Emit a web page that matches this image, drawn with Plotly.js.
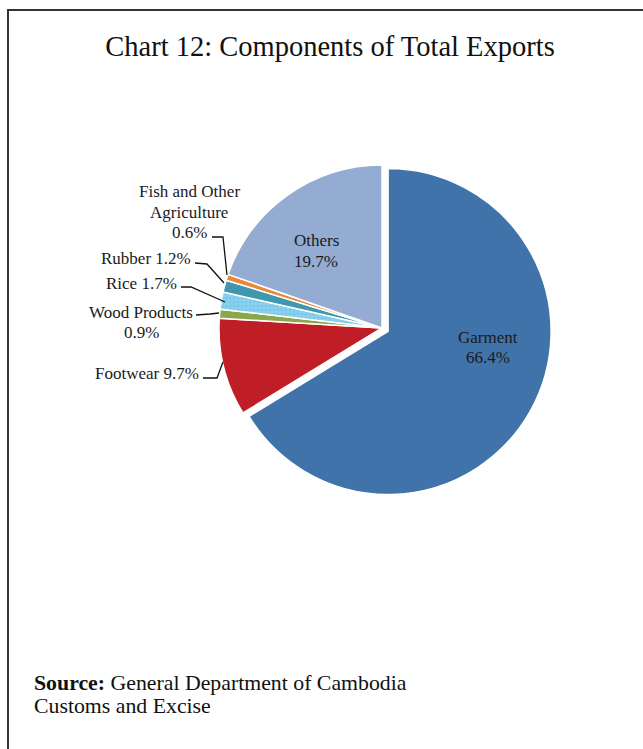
<!DOCTYPE html>
<html>
<head>
<meta charset="utf-8">
<script src="https://cdn.plot.ly/plotly-3.0.1.min.js"></script>
<style>
html,body{margin:0;padding:0;background:#fff;}
#chart{width:643px;height:749px;}
</style>
</head>
<body>
<div id="chart"></div>
<script>
// ---- data ----
var categories = ["Garment", "Footwear", "Wood Products", "Rice", "Rubber", "Fish and Other Agriculture", "Others"];
var shares = [66.4, 9.7, 0.9, 1.7, 1.2, 0.6, 19.7];
var labelLines = [
  ["Garment", "66.4%"],
  ["Footwear 9.7%"],
  ["Wood Products", "0.9%"],
  ["Rice 1.7%"],
  ["Rubber 1.2%"],
  ["Fish and Other", "Agriculture", "0.6%"],
  ["Others", "19.7%"]
];
var titleText = "Chart 12: Components of Total Exports";
var sourceLines = ["<b>Source:</b> General Department of Cambodia", "Customs and Excise"];

// ---- styling / layout (pixels) ----
var W = 643, H = 749;
var colors = ["#4073A9", "#BF1E26", "#8BA74B", "#88D0EE", "#3F98AE", "#E5893A", "#94ABD2"];
var pulls = [0.043, 0, 0, 0, 0, 0, 0];
var cx = 382, cy = 328, R = 163;
var half = R * (1 + 0.043);
function px(x){ return x / W; }
function py(y){ return 1 - y / H; }

var labelPos = [
  {x: 488, y: 337, anchor: "center"},
  {x: 201, y: 373, anchor: "right"},
  {x: 141, y: 312, anchor: "center"},
  {x: 179, y: 283, anchor: "right"},
  {x: 193, y: 259, anchor: "right"},
  {x: 189, y: 192, anchor: "center"},
  {x: 316, y: 241, anchor: "center"}
];
var lineGap = 20.5;
var leaders = [
  null,
  [[203,378],[217,378],[223,362]],
  [[196,315],[210,314],[219,313]],
  [[181,287],[191,287],[225,302]],
  [[195,263],[207,264],[224,283]],
  [[212,237],[223,237],[227,275]],
  null
];

var annotations = [];
labelLines.forEach(function(lines, i){
  var p = labelPos[i];
  lines.forEach(function(t, k){
    annotations.push({
      text: t, xref: "paper", yref: "paper",
      x: px(p.x), y: py(p.y + k * lineGap),
      xanchor: p.anchor, yanchor: "middle", showarrow: false,
      font: {family: "Liberation Serif, Times New Roman, serif", size: 17, color: "#1a1a1a"}
    });
  });
});
sourceLines.forEach(function(t, k){
  annotations.push({
    text: t, xref: "paper", yref: "paper",
    x: px(32), y: py(683 + k * 23),
    xanchor: "left", yanchor: "middle", showarrow: false,
    font: {family: "Liberation Serif, Times New Roman, serif", size: 21.8, color: "#111"}
  });
});

var shapes = [{
  type: "path", xref: "paper", yref: "paper",
  path: "M " + px(8) + " " + py(760) + " L " + px(8) + " " + py(10) + " L " + px(660) + " " + py(10),
  line: {color: "#333", width: 2}
}];
leaders.forEach(function(pts){
  if(!pts) return;
  var d = pts.map(function(p, j){ return (j ? "L " : "M ") + px(p[0]) + " " + py(p[1]); }).join(" ");
  shapes.push({type: "path", xref: "paper", yref: "paper", path: d, line: {color: "#111", width: 1.3}});
});

var trace = {
  type: "pie",
  labels: categories,
  values: shares,
  sort: false,
  direction: "clockwise",
  rotation: 0,
  pull: pulls,
  textinfo: "none",
  hoverinfo: "label+percent",
  marker: {
    colors: colors,
    line: {color: "#ffffff", width: 1.5},
    pattern: {
      shape: ["", "", "", ".", "", "", ""],
      fillmode: "overlay",
      fgcolor: "#5CB3DC",
      size: 4,
      solidity: 0.2
    }
  },
  domain: {x: [px(cx - half), px(cx + half)], y: [py(cy + half), py(cy - half)]},
  showlegend: false
};

var layout = {
  width: W, height: H,
  margin: {l: 0, r: 0, t: 0, b: 0},
  paper_bgcolor: "#ffffff",
  showlegend: false,
  title: {
    text: titleText, x: px(330), xanchor: "center", y: py(46), yanchor: "middle",
    font: {family: "Liberation Serif, Times New Roman, serif", size: 28.5, color: "#111"}
  },
  annotations: annotations,
  shapes: shapes
};

Plotly.newPlot("chart", [trace], layout, {displayModeBar: false, staticPlot: true});
</script>
</body>
</html>
